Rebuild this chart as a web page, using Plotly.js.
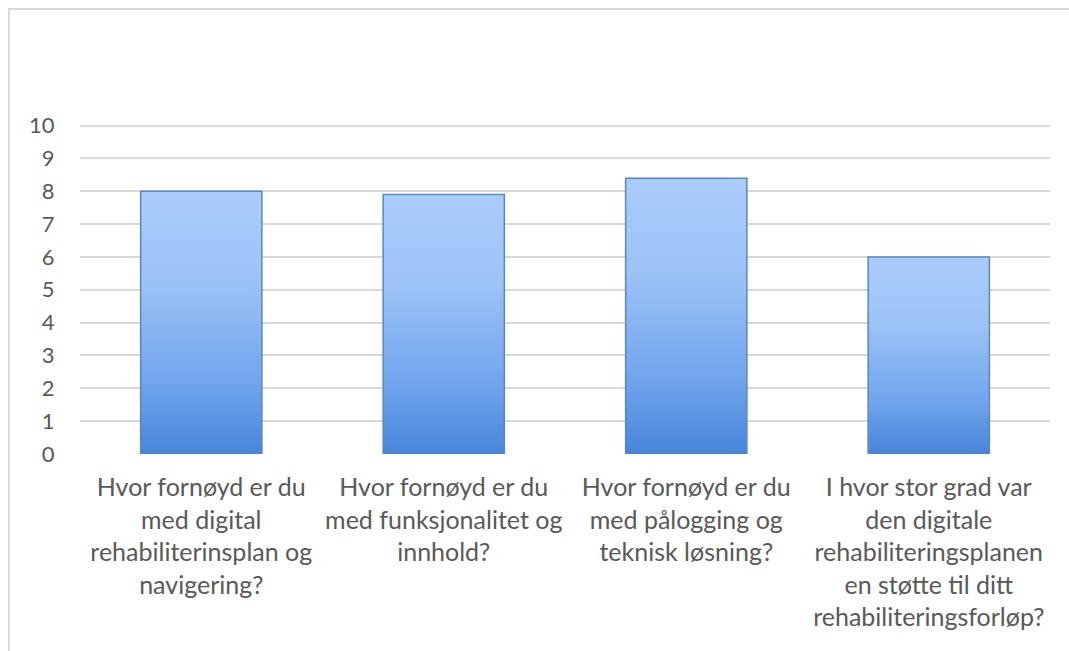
<!DOCTYPE html>
<html>
<head>
<meta charset="utf-8">
<script src="https://cdn.plot.ly/plotly-3.0.1.min.js"></script>
<style>
html,body{margin:0;padding:0;background:#fff;overflow:hidden;}
#frame{position:absolute;left:8px;top:8px;width:1100px;height:700px;border-left:2px solid #d9d9d9;border-top:2px solid #d9d9d9;z-index:0;}
#chart{position:absolute;left:0;top:0;width:1069px;height:651px;z-index:1;}
</style>
</head>
<body>
<div id="frame"></div>
<div id="chart"></div>
<script>
const categories = [
  "Hvor fornøyd er du<br>med digital<br>rehabiliterinsplan og<br>navigering?",
  "Hvor fornøyd er du<br>med funksjonalitet og<br>innhold?",
  "Hvor fornøyd er du<br>med pålogging og<br>teknisk løsning?",
  "I hvor stor grad var<br>den digitale<br>rehabiliteringsplanen<br>en støtte til ditt<br>rehabiliteringsforløp?"
];
const values = [8.0, 7.9, 8.4, 6.0];
const yTicks = [0,1,2,3,4,5,6,7,8,9,10];

const trace = {
  type: 'bar',
  x: categories,
  y: values,
  marker: {color: '#6fa3ea', line: {color: '#4a78b8', width: 1}},
  hoverinfo: 'none'
};

const layout = {
  width: 1069, height: 651,
  margin: {l: 80, r: 19, t: 124, b: 197},
  paper_bgcolor: 'rgba(0,0,0,0)',
  plot_bgcolor: 'rgba(0,0,0,0)',
  bargap: 0.5,
  showlegend: false,
  font: {family: 'Lato, Carlito, Calibri, sans-serif', color: '#595959'},
  xaxis: {
    type: 'category',
    showgrid: false, showline: false, zeroline: false,
    ticks: 'outside', ticklen: 11, tickcolor: 'rgba(0,0,0,0)',
    tickfont: {size: 25, color: '#595959'}
  },
  yaxis: {
    range: [-0.002, 10.05], tickvals: yTicks, ticktext: yTicks.map(String),
    showgrid: true, gridcolor: '#d9d9d9', gridwidth: 2,
    zeroline: false, showline: false,
    ticks: 'outside', ticklen: 20, tickcolor: 'rgba(0,0,0,0)',
    tickfont: {size: 22, color: '#595959'}
  }
};

Plotly.newPlot('chart', [trace], layout, {staticPlot: true}).then(function(gd){
  const svg = gd.querySelector('svg.main-svg');
  const ns = 'http://www.w3.org/2000/svg';
  let defs = svg.querySelector('defs');
  if (!defs) { defs = document.createElementNS(ns, 'defs'); svg.insertBefore(defs, svg.firstChild); }
  const g = document.createElementNS(ns, 'linearGradient');
  g.setAttribute('id', 'barGrad');
  g.setAttribute('x1', '0'); g.setAttribute('y1', '0');
  g.setAttribute('x2', '0'); g.setAttribute('y2', '1');
  [['0','#a9ccfa'],['0.35','#9cc2f6'],['0.75','#6ea3ec'],['1','#4784d9']].forEach(function(s){
    const st = document.createElementNS(ns, 'stop');
    st.setAttribute('offset', s[0]); st.setAttribute('stop-color', s[1]);
    g.appendChild(st);
  });
  defs.appendChild(g);
  gd.querySelectorAll('.bars .point path').forEach(function(p){
    p.style.fill = 'url(#barGrad)';
    p.style.stroke = '#5d86bf';
    p.style.strokeWidth = '1.5px';
  });
});
</script>
</body>
</html>
